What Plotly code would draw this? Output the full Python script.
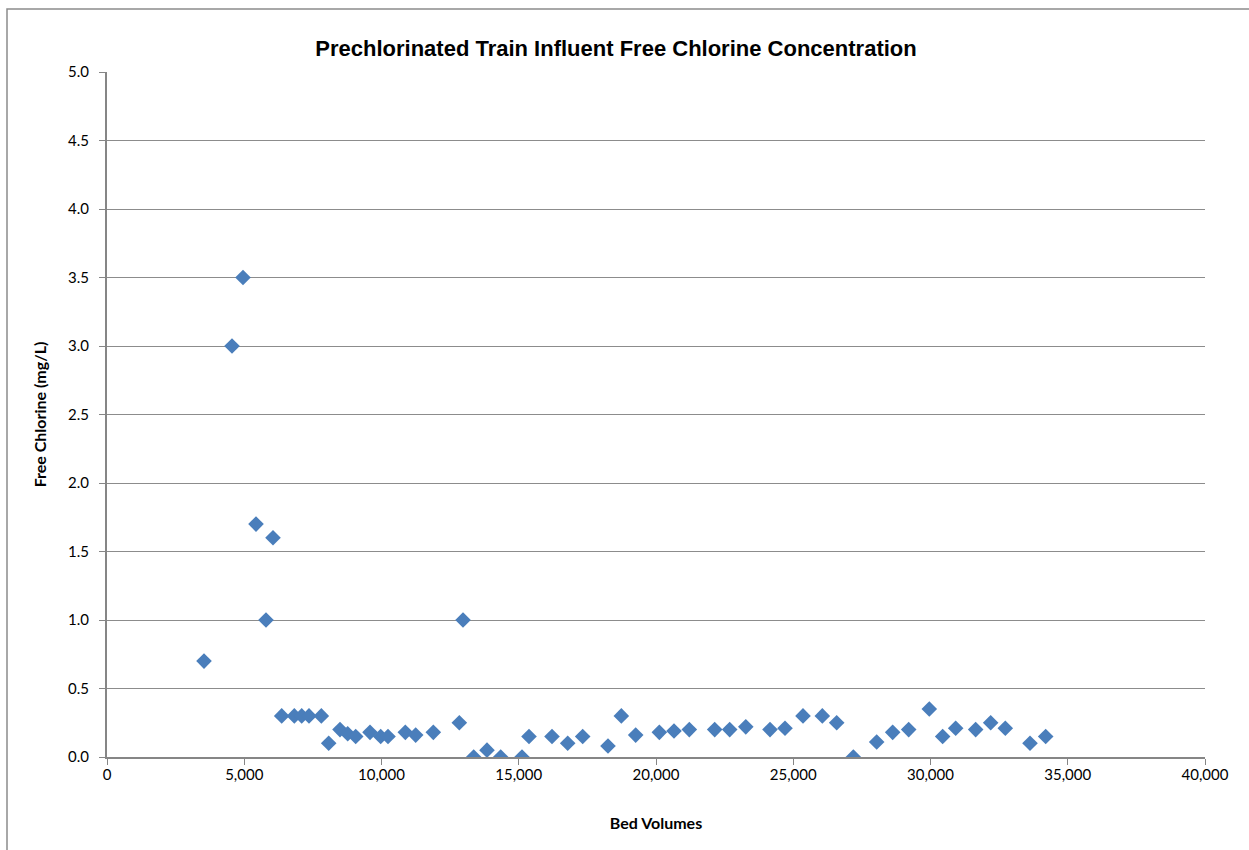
import plotly.graph_objects as go

bed_volumes = [3534, 4554, 4954, 5428, 5792, 6047, 6364, 6824, 7093, 7359, 7808, 8076, 8488, 8768, 9060,
               9581, 9970, 10237, 10868, 11245, 11888, 12835, 12970, 13358, 13843, 14342, 15118, 15373,
               16211, 16783, 17329, 18251, 18737, 19260, 20122, 20656, 21214, 22138, 22684, 23271, 24153,
               24699, 25355, 26059, 26582, 27189, 28039, 28622, 29205, 29956, 30443, 30917, 31645, 32192,
               32725, 33625, 34196]
free_chlorine = [0.70, 3.0, 3.5, 1.7, 1.0, 1.6, 0.30, 0.30, 0.30, 0.30, 0.30, 0.10, 0.20, 0.17, 0.15,
                 0.18, 0.15, 0.15, 0.18, 0.16, 0.18, 0.25, 1.0, 0.0, 0.05, 0.0, 0.0, 0.15,
                 0.15, 0.10, 0.15, 0.08, 0.30, 0.16, 0.18, 0.19, 0.20, 0.20, 0.20, 0.22, 0.20,
                 0.21, 0.30, 0.30, 0.25, 0.0, 0.11, 0.18, 0.20, 0.35, 0.15, 0.21, 0.20, 0.25,
                 0.21, 0.10, 0.15]
x_ticks = [0, 5000, 10000, 15000, 20000, 25000, 30000, 35000, 40000]
y_ticks = [0, 0.5, 1, 1.5, 2, 2.5, 3, 3.5, 4, 4.5, 5]

title = "Prechlorinated Train Influent Free Chlorine Concentration"
x_title = "Bed Volumes"
y_title = "Free Chlorine (mg/L)"

fig = go.Figure()
fig.add_trace(go.Scatter(
    x=bed_volumes, y=free_chlorine, mode="markers",
    marker=dict(symbol="diamond", size=12, color="#4a7ebb", line=dict(width=0)),
    showlegend=False,
))

font_fam = "Lato, Liberation Sans, sans-serif"
tick_font = dict(family=font_fam, size=15, color="#000000")
fig.update_layout(
    width=1249, height=850,
    margin=dict(l=107, r=44, t=72, b=93),
    paper_bgcolor="white", plot_bgcolor="white",
    title=dict(text="<b>" + title + "</b>", x=616 / 1249, xanchor="center",
               y=1 - 48 / 850, yanchor="middle",
               font=dict(family="Liberation Sans, Arial, sans-serif", size=22, color="#000000")),
    xaxis=dict(range=[0, 40000], tickvals=x_ticks,
               tickformat=",d", showgrid=False, zeroline=False,
               showline=True, linecolor="#868686", linewidth=2,
               ticks="outside", ticklen=6, tickcolor="#868686", tickwidth=1,
               tickfont=tick_font, ticklabelstandoff=-3,
               title=dict(text="<b>" + x_title + "</b>", standoff=36,
                          font=dict(family=font_fam, size=16, color="#000000"))),
    yaxis=dict(range=[0, 5], tickvals=y_ticks, tickformat=".1f",
               showgrid=True, gridcolor="#8c8c8c", gridwidth=1, zeroline=False,
               showline=True, linecolor="#868686", linewidth=2,
               ticks="outside", ticklen=6, tickcolor="#868686", tickwidth=1,
               tickfont=tick_font, ticklabelstandoff=7,
               title=dict(text="<b>" + y_title + "</b>", standoff=17,
                          font=dict(family=font_fam, size=16, color="#000000"))),
    shapes=[dict(type="rect", xref="paper", yref="paper",
                 x0=(7 - 107) / 1098, x1=(1260 - 107) / 1098,
                 y0=(757 - 860) / 685, y1=(757 - 9) / 685,
                 line=dict(color="#8c8c8c", width=1.5), fillcolor="rgba(0,0,0,0)", layer="below")],
)

fig.write_html("out.html", config={"displayModeBar": False},
               post_script="document.body.style.margin='0';document.body.style.overflow='hidden';")
